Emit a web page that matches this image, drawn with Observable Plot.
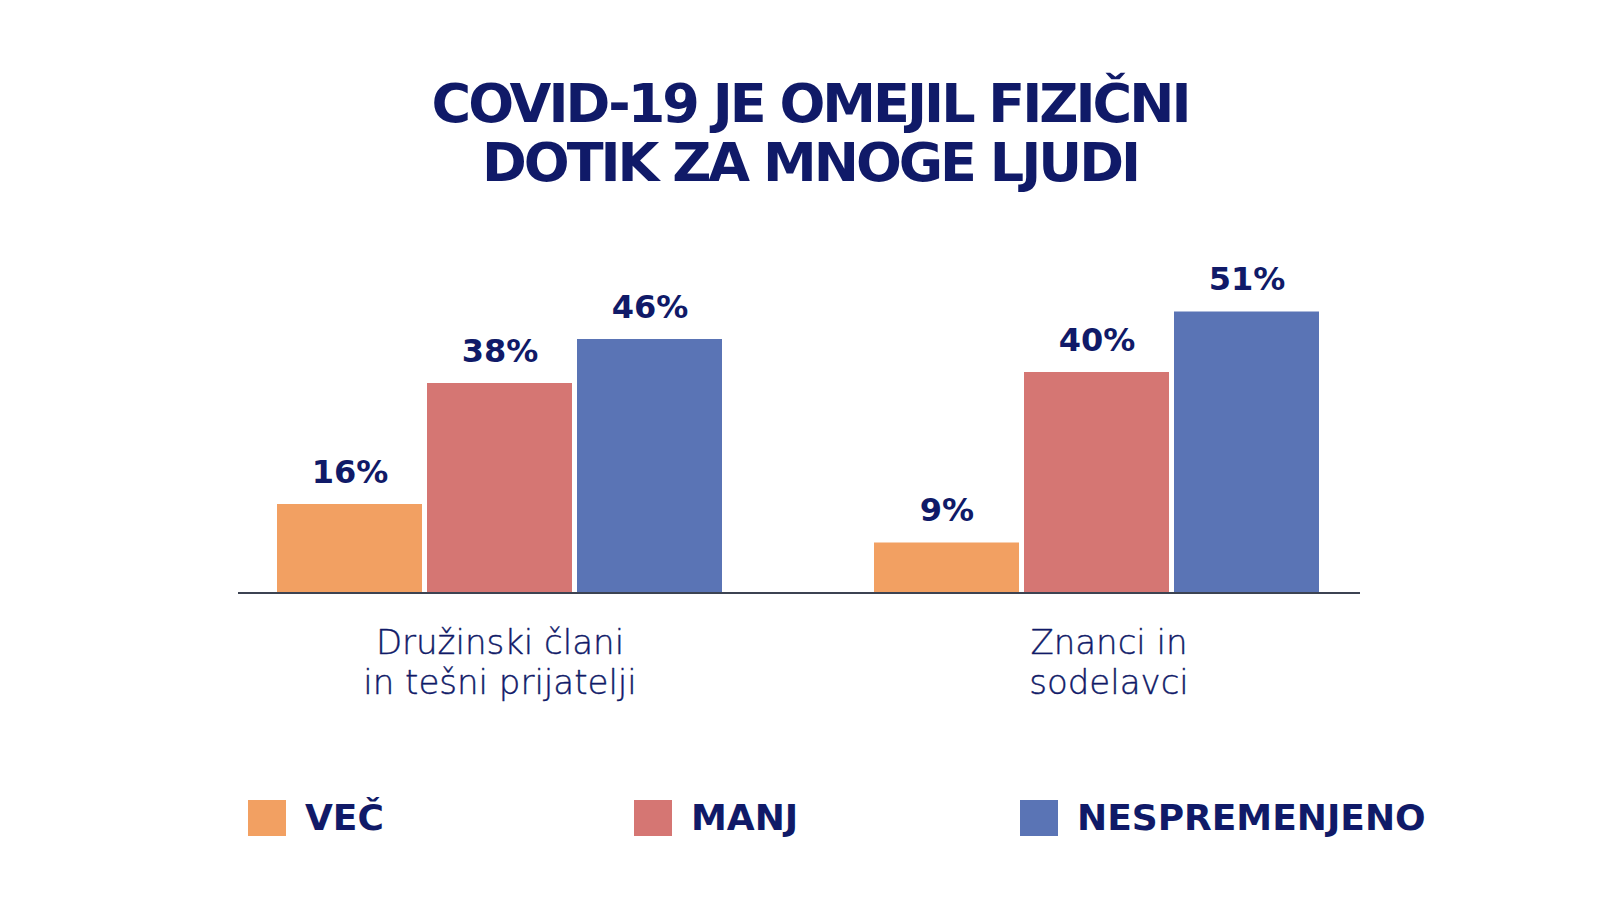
<!DOCTYPE html>
<html><head><meta charset="utf-8">
<script src="https://cdn.jsdelivr.net/npm/d3@7"></script>
<script src="https://cdn.jsdelivr.net/npm/@observablehq/plot@0.6"></script>
<style>
html,body{margin:0;padding:0;background:#fff;}
#page{position:relative;width:1600px;height:900px;overflow:hidden;font-family:"DejaVu Sans",sans-serif;background:#fff;}
#title{position:absolute;left:10px;top:74px;width:1600px;text-align:center;color:#101a68;margin:0;}
.tl{font-family:"DejaVu Sans",sans-serif;font-weight:bold;font-size:54px;line-height:59px;height:59px;letter-spacing:-3px;white-space:nowrap;}
#chart{position:absolute;left:0;top:220px;}
#legend{position:absolute;left:248px;top:800px;display:flex;}
.item{display:flex;align-items:center;width:386px;height:36px;}
.sw{width:38px;height:36px;margin-right:19px;flex:none;}
.lab{font-family:"DejaVu Sans",sans-serif;font-weight:bold;font-size:36px;color:#101a68;line-height:36px;white-space:nowrap;}
</style></head>
<body><div id="page"><div id="title"></div><div id="chart"></div><div id="legend"></div></div>
<script>
const titleLines = ["COVID-19 JE OMEJIL FIZIČNI", "DOTIK ZA MNOGE LJUDI"];
const groups = ["Družinski člani\nin tešni prijatelji", "Znanci in\nsodelavci"];
const series = ["VEČ", "MANJ", "NESPREMENJENO"];
const valuesFamily = [16, 38, 46];
const valuesAcquaintances = [9, 40, 51];
const colors = ["#F2A062", "#D57673", "#5A74B5"];

const navy = "#101a68";
const titleEl = d3.select("#title");
titleLines.forEach(t => titleEl.append("div").attr("class", "tl").text(t));

const valueSets = [valuesFamily, valuesAcquaintances];
const data = groups.flatMap((g, gi) => series.map((s, si) => ({group: g, series: s, value: valueSets[gi][si]})));

const W = 1600, H = 490;
const chart = Plot.plot({
  width: W, height: H,
  marginLeft: 238, marginRight: 242, marginTop: 42, marginBottom: 118,
  style: {background: "transparent", fontFamily: "'DejaVu Sans', sans-serif", overflow: "visible"},
  fx: {domain: groups, paddingInner: 0.2508, paddingOuter: 0.0619, axis: null},
  x: {domain: series, paddingInner: 0.033, paddingOuter: 0, axis: null},
  y: {domain: [0, 60], axis: null},
  color: {domain: series, range: colors},
  marks: [
    Plot.barY(data, {fx: "group", x: "series", y: "value", fill: "series"}),
    Plot.text(data, {fx: "group", x: "series", y: "value", text: d => d.value + "%", lineAnchor: "bottom", dy: -22, fontSize: 32, fontWeight: "bold", fontFamily: "'DejaVu Sans', sans-serif", fill: navy}),
    ...groups.map((g, gi) => Plot.text([g], {fx: d => d, text: d => d, frameAnchor: "bottom", lineAnchor: "top", dy: 33, dx: gi === 1 ? 12 : 0, fontSize: 34, fontWeight: 200, fontFamily: "'DejaVu Sans', sans-serif", lineHeight: 1.18, fill: navy, stroke: navy, strokeWidth: 0.4}))
  ]
});
// continuous baseline across the whole frame, placed with the plot's y scale
const y0 = chart.scale("y").apply(0);
d3.select(chart).append("line")
  .attr("x1", 238).attr("x2", W - 240)
  .attr("y1", y0 + 1).attr("y2", y0 + 1)
  .attr("stroke", "#3c4352").attr("stroke-width", 2);
document.getElementById("chart").appendChild(chart);

const legend = d3.select("#legend");
series.forEach((s, i) => {
  const it = legend.append("div").attr("class", "item");
  it.append("div").attr("class", "sw").style("background", colors[i]);
  it.append("div").attr("class", "lab").text(s);
});
</script></body></html>
